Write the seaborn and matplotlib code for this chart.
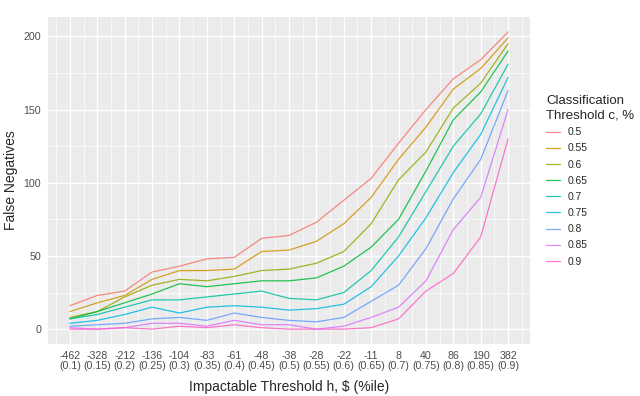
import numpy as np
import pandas as pd
import matplotlib
matplotlib.use("Agg")
import matplotlib.pyplot as plt
import seaborn as sns

# data
h_dollar = ["-462", "-328", "-212", "-136", "-104", "-83", "-61", "-48", "-38",
            "-28", "-22", "-11", "8", "40", "86", "190", "382"]
h_pct = ["0.1", "0.15", "0.2", "0.25", "0.3", "0.35", "0.4", "0.45", "0.5",
         "0.55", "0.6", "0.65", "0.7", "0.75", "0.8", "0.85", "0.9"]
c_levels = ["0.5", "0.55", "0.6", "0.65", "0.7", "0.75", "0.8", "0.85", "0.9"]

fn_050 = [16, 23, 26, 39, 43, 48, 49, 62, 64, 73, 88, 103, 127, 150, 171, 184, 203]
fn_055 = [12, 18, 23, 34, 40, 40, 41, 53, 54, 60, 72, 90, 116, 138, 164, 178, 199]
fn_060 = [8, 12, 22, 30, 34, 33, 36, 40, 41, 45, 53, 72, 102, 121, 151, 168, 195]
fn_065 = [7, 12, 18, 24, 31, 29, 31, 33, 33, 35, 43, 56, 75, 108, 143, 162, 190]
fn_070 = [7, 10, 15, 20, 20, 22, 24, 26, 21, 20, 25, 40, 63, 94, 125, 147, 181]
fn_075 = [4, 6, 10, 15, 11, 15, 16, 15, 13, 14, 17, 29, 50, 76, 107, 133, 172]
fn_080 = [2, 3, 4, 7, 8, 6, 11, 8, 6, 5, 8, 19, 30, 55, 89, 116, 163]
fn_085 = [1, 0, 1, 4, 4, 2, 6, 3, 3, 0, 2, 8, 15, 33, 68, 90, 150]
fn_090 = [0, 0, 1, 0, 2, 1, 3, 1, 0, 0, 0, 1, 7, 26, 38, 63, 130]

series = [fn_050, fn_055, fn_060, fn_065, fn_070, fn_075, fn_080, fn_085, fn_090]

# ggplot default hue palette for 9 levels
colors = ["#F8766D", "#D39200", "#93AA00", "#00BA38", "#00C19F",
          "#00B9E3", "#619CFF", "#DB72FB", "#FF61C3"]

rows = []
for c, vals in zip(c_levels, series):
    for i, v in enumerate(vals):
        rows.append({"pos": i, "c": c, "fn": v})
df = pd.DataFrame(rows)

sns.set_theme(style="darkgrid", rc={
    "axes.facecolor": "#EBEBEB",
    "grid.color": "white",
})
plt.rcParams["font.family"] = ["Liberation Sans", "DejaVu Sans"]

fig = plt.figure(figsize=(6.4, 3.96), dpi=100)
ax = fig.add_axes([48 / 640, 1 - 344 / 396, (530 - 48) / 640, (344 - 17) / 396])

sns.lineplot(data=df, x="pos", y="fn", hue="c", hue_order=c_levels,
             palette=colors, linewidth=0.9, alpha=0.85, ax=ax, legend=False)

ax.set_xlim(-0.8, 16.8)
ax.set_ylim(-10.15, 213.2)

ax.set_xticks(range(len(h_dollar)))
ax.set_xticklabels([f"{d}\n({p})" for d, p in zip(h_dollar, h_pct)],
                   fontsize=7.7, color="#4D4D4D", linespacing=1.05)
ax.set_xticks(np.arange(-0.5, 17, 1), minor=True)
ax.set_yticks([0, 50, 100, 150, 200])
ax.set_yticks([25, 75, 125, 175], minor=True)
ax.tick_params(axis="y", labelsize=7.7, labelcolor="#4D4D4D")
ax.tick_params(which="major", length=3, width=0.8, color="#333333", pad=2)
ax.tick_params(which="minor", length=0)
ax.grid(which="major", color="white", linewidth=1.0)
ax.grid(which="minor", color="white", linewidth=0.5)
for s in ax.spines.values():
    s.set_visible(False)

ax.set_xlabel("Impactable Threshold h, $ (%ile)", fontsize=10, labelpad=6)
ax.set_ylabel("False Negatives", fontsize=10, labelpad=4)

# legend in the right margin, like ggplot
handles = [plt.Line2D([], [], color=col, linewidth=0.9, alpha=0.85) for col in colors]
leg = fig.legend(handles, c_levels, title="Classification\nThreshold c, %",
                 loc="upper left", bbox_to_anchor=(537 / 640, 1 - 86 / 396),
                 frameon=False, fontsize=7.4, title_fontsize=9.5,
                 handlelength=1.3, handletextpad=0.8, labelspacing=0.6,
                 alignment="left")

fig.savefig("out.png", dpi=100)
